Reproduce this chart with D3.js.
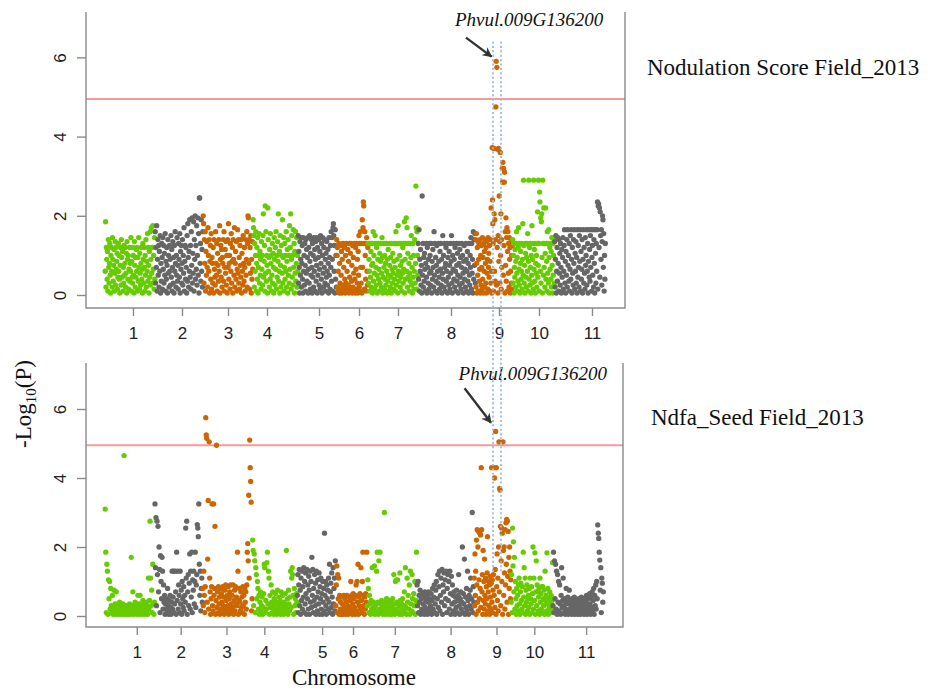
<!DOCTYPE html>
<html>
<head>
<meta charset="utf-8">
<script src="https://cdn.jsdelivr.net/npm/d3@7"></script>
<style>
  body { margin: 0; background: #fff; }
  svg { display: block; }
</style>
</head>
<body>
<svg id="chart" width="934" height="691"></svg>
<script>
// ---- Chromosomes, tick positions (Mb along the concatenated genome) ----
const chromosomes = ["1", "2", "3", "4", "5", "6", "7", "8", "9", "10", "11"];
const chromLengths = [50, 48, 50, 45, 38.5, 31.5, 50, 57.5, 37, 42, 51];
const nodTicks = [28, 77, 123, 162, 214, 254, 293, 346, 394, 434, 487];
const ndfaTicks = [32, 76, 122, 160, 218, 249, 291, 347, 393, 431, 483];
const yTicks = [0, 2, 4, 6];
const threshold = 4.95;             // genome-wide significance, -log10(P)
const candidateRegion = [388, 396]; // Phvul.009G136200 interval (Mb, genome coordinates)
const geneName = "Phvul.009G136200";

// ---- Nodulation Score Field_2013: -log10(P) of SNPs along each chromosome ----
const nodChr1 = [0.6,1.85,0.2,1.2,0.9,0.4,1.1,0.1,1.4,0.7,0.3,0.8,1.3,0.5,0.05,1.0,1.2,0.6,0.2,1.45,0.9,0.35,0.75,1.15,0.1,0.55,1.35,0.25,1.2,0.65,0.85,1.05,0.15,0.45,1.3,0.6,1.0,0.4,0.05,0.75,1.2,0.25,1.4,0.95,0.45,1.1,0.1,0.7,0.3,1.25,0.5,0.8,1.2,0.2,0.55,1.05,0.05,1.35,0.9,0.4,1.0,0.15,0.65,1.2,0.35,0.8,0.6,1.45,0.1,0.85,0.45,0.3,1.2,1.0,0.5,0.05,1.35,0.75,0.2,0.95,0.45,1.15,0.6,1.2,0.1,0.95,0.35,1.45,0.7,0.15,1.05,0.55,0.25,0.8,1.2,0.4,0.65,0.05,1.3,0.9,0.3,1.2,0.7,0.1,1.0,0.5,1.4,0.2,0.85,0.6,1.55,0.35,1.2,0.75,0.05,1.1,0.45,1.6,0.25,0.9,1.7,0.55,1.2,0.3,1.75,0.65,1.0,0.15,1.45,0.4];
const nodChr2 = [1.6,0.3,1.2,0.7,1.75,0.1,0.9,1.4,0.5,1.25,0.2,1.1,0.6,1.5,0.05,0.8,0.35,1.3,0.95,0.15,1.45,0.65,1.25,0.3,1.05,0.5,1.55,0.1,0.85,0.4,1.2,0.75,0.05,1.4,0.55,1.0,0.2,1.25,0.6,0.9,0.25,1.5,0.45,1.15,0.1,0.7,1.35,0.3,0.95,0.05,1.25,0.6,1.6,0.8,0.2,1.0,0.5,1.45,0.35,0.75,0.15,1.3,0.9,0.45,1.55,0.05,1.1,0.65,1.25,0.3,0.8,1.4,0.25,1.0,0.55,1.7,0.1,0.85,1.25,0.4,1.2,0.7,0.05,1.5,0.35,1.8,0.95,0.2,1.1,0.6,1.9,0.45,1.25,0.15,1.6,0.75,1.95,0.3,1.05,0.55,1.85,0.1,1.4,0.9,2.0,0.4,1.25,0.65,1.75,0.25,1.0,1.95,0.5,1.55,0.05,2.45,2.45,0.8,1.3,0.35,1.9,0.6,1.15,0.2,1.6];
const nodChr3 = [2.0,1.8,0.3,1.4,0.8,1.6,0.1,1.1,0.5,1.35,0.7,0.2,1.7,1.0,0.6,1.4,0.05,0.85,1.25,0.4,1.55,0.15,0.95,0.8,0.3,1.2,0.05,1.4,0.65,0.45,0.25,1.6,0.8,0.5,1.3,0.1,1.05,0.75,0.35,1.4,0.6,1.75,0.05,0.9,1.25,0.45,1.15,0.2,0.95,0.8,1.4,0.35,1.6,0.1,0.7,1.15,0.55,1.35,0.25,1.0,0.05,1.4,0.7,1.8,0.4,0.8,1.0,0.15,1.3,0.6,1.55,0.3,0.85,1.2,0.05,1.4,0.9,0.5,1.7,0.2,0.8,1.1,0.4,1.35,0.1,0.65,1.65,0.55,1.4,0.3,0.95,0.15,1.25,0.75,0.45,1.4,0.05,1.05,0.6,0.25,1.5,0.8,0.35,1.2,0.7,0.1,1.4,0.5,0.9,1.6,0.2,1.3,2.0,1.95,0.8,1.4,0.15,1.2,0.55,1.5,0.05,0.9,0.4,1.35,0.65];
const nodChr4 = [1.9,1.7,1.5,0.2,1.3,0.6,1.0,1.6,0.1,0.8,1.2,0.4,1.45,0.05,0.7,1.0,1.55,0.3,1.1,0.5,0.9,0.15,1.35,0.65,1.0,0.25,1.5,2.05,0.45,0.85,1.25,0.1,2.25,0.55,1.6,0.35,1.0,0.75,0.05,2.2,1.4,0.6,0.95,0.2,1.15,0.4,1.55,0.8,1.0,0.1,0.5,1.3,0.3,1.05,0.7,0.05,1.45,0.9,0.25,1.2,0.65,1.6,0.15,1.0,0.45,1.35,0.85,2.05,0.35,0.6,1.1,0.05,1.5,0.75,0.2,1.25,1.0,0.55,1.9,0.3,0.95,1.45,0.1,0.7,1.3,0.4,1.0,0.6,1.6,0.2,0.85,1.15,0.05,1.4,0.5,1.0,0.3,1.75,0.65,1.2,2.05,0.15,0.9,1.5,0.45,1.0,0.25,1.65,0.7,1.3,0.05,1.1,0.55,1.6,0.35,0.8,1.45,0.2,1.0,0.6];
const nodChr5 = [1.5,0.3,1.1,0.7,0.05,1.35,0.5,0.9,1.45,0.2,0.8,1.25,0.4,0.05,1.45,0.6,1.0,0.25,1.3,0.75,0.1,1.4,0.55,1.15,0.35,0.95,1.45,0.05,0.65,1.2,0.3,1.5,0.85,0.15,1.05,0.5,1.4,0.7,0.05,1.3,0.45,1.0,0.2,1.45,0.6,1.15,0.1,0.9,1.35,0.35,0.75,1.45,0.05,1.2,0.5,0.95,1.4,0.25,0.65,1.1,0.15,1.5,0.8,0.4,1.3,0.05,1.0,1.45,0.55,0.2,1.2,0.7,1.4,0.3,0.9,0.1,1.05,0.45,1.35,0.6,0.25,1.15,0.8,0.05,1.45,0.5,0.95,0.15,1.25,0.7,1.6,0.35,1.45,0.9,0.1,1.7,1.8,1.5,0.6,1.25,0.05,1.65,0.4,1.0,0.2];
const nodChr6 = [1.4,1.0,1.2,0.2,0.6,0.1,1.3,0.05,0.8,0.3,1.25,0.15,0.5,1.1,0.05,0.9,0.25,1.3,0.1,0.7,0.2,1.2,0.4,0.05,1.0,0.3,1.3,0.15,0.6,0.1,1.15,0.25,0.85,0.05,1.3,0.45,0.2,1.05,0.1,1.3,0.35,0.75,0.05,1.25,0.2,0.95,0.55,0.1,1.3,0.4,0.05,1.2,0.65,0.15,1.3,0.3,0.9,0.05,1.1,0.5,1.5,0.2,1.3,0.1,1.6,0.7,0.3,1.3,0.05,1.9,0.7,1.7,2.35,2.25,1.3,0.15,1.6,1.0,0.4,1.3,0.1,1.45,0.6,0.25,1.2];
const nodChr7 = [1.3,0.3,0.9,0.6,0.1,1.3,0.45,1.1,0.2,0.75,1.3,0.05,0.8,1.6,0.35,1.0,0.55,0.15,1.5,1.3,0.7,0.25,1.2,0.5,0.05,0.9,1.3,0.4,0.65,0.1,1.05,0.3,0.85,1.3,0.2,0.55,1.45,0.95,0.05,0.45,1.3,0.7,0.15,1.0,0.4,0.8,0.25,1.3,0.6,0.05,0.9,0.35,1.15,0.5,0.1,1.3,0.75,0.2,0.95,0.45,0.05,1.3,0.65,0.3,1.05,0.55,0.15,0.85,1.3,0.4,0.7,0.1,1.6,0.25,1.3,0.9,0.5,0.05,1.75,0.6,0.35,1.3,1.0,0.2,0.75,0.45,1.3,0.1,0.85,0.55,1.2,0.3,0.65,1.3,1.85,0.05,0.9,0.4,1.3,1.95,0.6,1.7,0.2,1.05,0.45,1.3,0.8,0.1,0.55,0.35,1.3,0.95,1.5,0.25,0.7,0.05,1.3,0.45,1.0,0.15,0.6,1.4,0.3,0.8,2.75,1.7,0.15,1.6,1.0,0.5];
const nodChr8 = [1.3,0.4,1.65,0.1,0.9,0.6,1.15,0.25,0.75,0.05,2.5,0.5,1.3,0.2,0.95,0.35,1.05,0.65,0.1,0.8,1.3,0.45,0.05,1.2,0.7,0.3,0.9,0.15,1.3,0.55,1.0,0.25,0.6,1.3,0.05,0.85,0.4,1.15,0.7,0.2,1.6,0.5,1.3,0.1,0.95,0.35,0.75,1.25,0.05,0.6,0.3,1.3,0.85,0.45,0.15,1.1,0.65,1.3,0.25,0.9,0.05,0.55,1.5,0.4,1.0,0.2,1.3,0.7,0.1,0.8,1.2,0.35,0.6,1.3,0.05,0.95,0.45,0.25,1.1,0.75,0.15,1.3,0.55,0.85,1.5,0.3,0.05,1.0,0.65,1.3,0.4,0.9,0.2,1.2,0.6,0.1,1.3,0.75,0.35,1.05,0.5,0.05,1.3,0.8,0.25,1.15,0.45,0.95,0.15,0.7,1.3,0.3,1.0,0.55,0.05,0.85,1.25,0.4,0.65,0.2,1.3,0.9,0.1,0.6,1.1,0.35,0.8,0.05,1.3,0.5,0.25,1.0,0.7,1.45,0.15,1.3,0.55,0.9,0.05,1.6,0.4,1.4,0.75,1.55,0.3];
const nodChr9 = [1.4,0.2,1.55,0.8,0.05,1.2,0.5,1.35,0.1,0.9,1.3,0.35,0.65,1.4,0.05,1.0,0.25,1.25,0.7,0.15,1.45,0.4,0.95,0.05,1.3,0.6,1.1,0.2,1.4,0.8,0.3,1.2,0.05,1.35,0.55,0.9,0.15,1.45,0.7,1.05,0.45,1.25,0.1,0.85,1.4,0.3,2.2,0.6,0.05,3.72,2.4,1.8,1.3,0.1,3.7,2.05,0.6,1.9,0.35,1.4,4.75,5.9,0.25,5.75,1.2,3.68,0.05,1.5,3.7,0.85,2.5,1.35,0.3,3.6,1.0,2.05,0.15,1.4,0.7,3.2,2.85,3.35,0.5,3.2,1.25,2.85,3.1,0.05,1.6,0.75,1.95,0.35,1.45,1.7,0.1,1.1,1.6,0.55,1.3,0.2,1.45,0.9,1.2,0.05,0.6,1.35,0.3,1.0,0.15,1.25];
const nodChr10 = [1.4,0.3,1.0,1.3,0.05,0.7,0.45,1.15,0.2,0.85,1.3,1.6,0.55,0.95,0.1,0.35,1.2,1.7,0.65,0.25,1.3,0.05,0.8,1.1,0.4,0.6,1.3,0.15,0.9,1.8,0.5,2.9,1.25,0.3,0.75,0.05,1.3,1.05,0.45,0.2,0.95,1.3,0.6,1.55,0.1,0.85,2.9,0.4,1.2,0.25,1.3,0.7,0.05,1.0,0.5,1.75,0.3,0.9,1.3,0.15,2.9,0.65,1.15,0.35,1.3,0.05,0.8,0.55,1.0,0.2,1.3,2.1,0.45,0.75,2.9,1.3,0.1,2.6,2.35,0.6,1.95,0.3,1.85,2.05,0.95,0.05,2.9,1.3,0.5,2.2,0.7,1.3,0.2,1.05,2.2,0.4,1.3,0.85,0.1,1.6,0.55,1.3,0.3,1.65,0.95,0.05,1.2,0.65,1.3,0.4,1.1,0.2,1.45,0.75,0.05,1.3,0.5,1.0,1.4,0.3];
const nodChr11 = [1.35,0.2,0.9,1.5,0.05,0.6,1.2,0.35,1.45,0.8,0.1,1.4,0.55,1.05,0.25,1.3,0.7,0.05,1.15,0.45,0.95,1.45,0.15,0.6,1.25,1.65,0.3,0.85,0.05,1.1,0.5,1.4,0.2,1.65,0.75,1.0,0.35,1.3,0.1,0.65,1.5,0.4,1.65,0.9,0.05,1.2,0.55,0.25,1.4,0.8,1.65,0.15,1.05,0.6,1.35,0.3,0.95,0.05,1.65,0.45,1.25,0.7,0.2,1.5,0.85,1.65,0.1,1.1,0.4,0.65,1.4,0.05,0.9,1.65,0.3,1.2,0.55,0.15,1.45,0.75,1.0,1.65,0.25,0.6,1.3,0.05,0.85,1.65,0.45,1.15,0.35,1.5,0.7,1.65,0.1,0.95,1.25,0.5,1.65,0.2,1.4,0.8,0.05,1.65,1.05,0.3,1.3,0.6,1.65,2.35,0.15,2.25,2.3,1.2,2.2,0.45,2.1,1.5,0.9,1.65,0.25,1.35,2.0,1.9,0.7,1.55,0.1,1.0,0.4,1.3];

// ---- Ndfa_Seed Field_2013 ----
const ndfaChr1 = [3.1,1.85,0.1,1.5,1.3,0.05,1.05,0.5,1.0,0.2,0.8,0.3,0.1,0.6,0.05,0.25,0.75,0.15,0.35,0.05,0.7,0.2,0.1,0.3,0.05,0.15,0.4,0.25,0.05,0.3,0.1,0.2,0.35,0.05,4.65,0.15,0.3,0.05,0.2,0.1,0.3,0.05,0.25,0.15,0.35,0.05,0.2,1.7,0.1,0.3,0.7,0.05,0.2,0.15,0.4,0.1,0.3,0.05,0.25,0.6,0.15,0.35,0.05,0.6,0.2,0.1,0.3,0.05,0.45,0.2,0.1,0.35,0.05,0.25,0.4,0.15,0.3,0.05,1.1,0.2,0.45,2.75,1.1,0.3,0.75,0.1,1.5,0.35,0.05,0.4];
const ndfaChr2 = [3.25,1.4,2.85,0.3,2.75,1.2,2.6,0.7,2.0,1.35,0.1,1.75,1.0,0.5,1.7,1.3,0.2,0.9,0.4,0.6,0.05,0.35,0.2,0.5,0.1,0.8,0.3,0.05,0.45,0.15,0.6,0.25,0.05,0.4,1.3,0.2,0.55,1.3,0.1,0.35,1.3,0.7,0.05,1.85,0.45,1.3,0.2,0.9,0.6,0.1,1.3,0.35,0.75,0.05,1.0,0.5,0.25,0.85,0.15,0.6,0.4,2.55,1.1,2.75,0.05,0.7,1.2,0.3,0.95,1.8,0.2,1.3,0.55,1.85,0.1,1.05,0.75,1.3,0.35,1.0,1.85,0.25,0.9,1.2,2.65,2.55,2.3,3.25,1.5,0.6,1.3,0.15,0.8,1.1,0.4];
const ndfaChr3 = [0.8,0.3,1.3,0.6,0.1,0.85,5.75,5.25,5.15,0.4,1.65,3.35,0.2,5.05,1.1,0.7,0.05,0.5,0.85,3.25,0.3,0.15,3.25,0.6,0.8,2.6,0.05,0.45,4.95,0.25,0.7,0.1,0.85,0.35,0.55,0.05,0.8,0.2,0.65,0.4,0.1,0.85,0.3,0.55,0.05,0.75,0.2,0.9,0.45,0.15,0.6,0.3,0.85,0.05,0.5,0.7,0.2,0.9,0.35,0.1,0.6,0.25,0.9,0.05,0.45,0.75,0.15,0.85,0.35,0.55,0.3,1.85,1.3,0.05,0.45,0.8,0.4,0.15,0.7,0.25,0.55,0.1,0.85,0.3,0.6,0.05,0.8,0.4,0.7,0.2,0.9,1.85,2.1,1.6,3.5,1.1,5.1,4.3,3.9,3.3,0.15,0.5];
const ndfaChr4 = [2.2,1.9,0.3,1.8,1.6,0.1,1.4,1.2,0.5,1.0,0.8,0.2,0.6,0.05,0.4,0.7,0.15,0.3,0.55,0.05,0.25,0.65,1.5,1.4,0.1,0.45,0.2,1.55,1.85,0.35,1.3,1.1,0.05,0.6,0.25,0.9,0.4,0.1,0.7,0.3,0.05,0.5,0.2,0.65,0.15,0.4,0.05,0.75,0.3,0.1,0.55,0.2,0.45,0.05,0.7,0.35,0.15,0.6,0.25,0.05,0.4,0.1,0.65,0.3,1.9,0.2,0.5,0.05,0.75,0.35,0.15,0.55,1.3,0.25,1.1,1.4,1.2,0.6,0.05,0.8,0.3,0.5,0.1,0.65,0.4];
const ndfaChr5 = [0.6,1.2,0.1,0.9,1.35,0.3,0.75,0.05,1.1,0.45,1.3,0.2,0.85,0.55,1.4,0.1,1.0,0.35,1.25,0.65,0.05,1.35,0.5,0.9,0.2,1.15,0.75,0.05,1.3,0.4,1.0,0.25,1.7,0.6,1.35,0.1,0.8,0.45,1.2,0.3,0.95,0.05,1.3,0.55,0.15,1.05,0.7,0.35,1.25,0.05,0.85,0.5,1.1,0.2,0.65,0.05,1.0,0.4,0.8,0.15,2.4,0.6,1.0,0.3,0.05,0.9,0.5,0.75,0.2,1.1,0.4,1.5,0.1,0.7,0.95,0.25,1.25,0.55,0.05,1.4,0.35,0.8,1.1,0.15,1.6];
const ndfaChr6 = [0.3,0.9,1.45,0.1,1.2,0.5,1.1,0.05,0.6,0.2,0.4,0.05,0.55,0.15,0.35,0.05,0.6,0.25,0.1,0.5,0.2,0.05,0.4,0.6,0.15,0.3,0.05,0.55,0.25,0.1,0.45,1.0,0.2,0.6,0.05,0.35,0.65,0.1,0.5,0.25,0.05,0.6,0.9,0.15,1.0,0.4,1.5,0.05,0.55,0.3,0.65,0.2,1.4,0.45,0.1,1.0,1.85,0.6,0.3,0.05,0.55,0.2,0.65,0.4,1.85];
const ndfaChr7 = [0.3,1.05,0.8,0.1,0.6,0.35,0.05,0.45,0.2,1.4,0.1,0.4,0.25,1.45,0.05,0.3,0.15,1.3,1.85,0.4,0.05,1.6,0.2,1.85,0.35,0.1,0.45,0.25,0.05,0.3,0.15,3.0,0.4,0.05,0.25,0.5,0.1,0.35,0.2,0.05,0.45,0.3,0.1,0.4,0.05,0.25,0.5,0.15,1.2,0.35,0.05,1.0,0.2,1.05,0.4,1.05,0.1,0.3,0.05,1.25,0.45,0.2,0.35,0.05,0.5,0.15,0.3,0.7,0.1,1.4,0.25,0.05,1.1,0.4,0.6,0.2,0.9,0.05,1.3,0.35,0.15,1.2,0.5,0.1,0.65,0.3,1.0,0.05,0.45,1.85];
const ndfaChr8 = [0.9,0.3,1.0,0.1,0.6,0.4,0.75,0.05,0.5,0.2,0.65,0.1,0.35,0.55,0.05,0.7,0.25,0.45,0.15,0.6,0.05,0.4,0.7,0.2,0.5,0.1,0.3,0.65,0.05,0.45,0.8,0.2,0.55,0.9,0.1,0.35,0.75,1.0,0.05,0.5,1.2,0.25,0.85,1.3,0.15,0.6,1.1,0.4,1.35,0.05,0.9,0.7,1.25,0.3,1.05,0.5,1.3,0.1,0.8,1.2,0.45,1.0,0.2,1.3,0.65,0.05,1.15,0.35,0.9,0.6,0.15,0.7,0.4,0.05,0.55,0.25,0.75,0.1,0.45,0.6,1.2,0.3,0.05,0.5,0.7,0.2,0.4,2.0,0.1,0.65,0.35,1.65,0.05,0.55,0.25,0.8,0.15,1.3,0.45,0.05,0.6,0.3,0.75,1.1,0.2,0.5,3.0,0.1,0.85,0.4];
const ndfaChr9 = [1.1,0.3,1.8,0.6,1.3,0.05,2.2,0.9,2.5,0.4,2.0,0.15,2.45,1.05,0.5,2.4,0.8,2.35,0.25,4.3,2.5,0.7,1.2,0.05,1.9,0.45,1.0,0.2,1.65,0.6,0.35,1.1,0.05,0.85,0.5,1.25,2.3,0.15,0.7,1.0,0.3,0.9,0.05,1.15,0.55,0.2,0.95,4.3,0.4,1.05,0.1,0.75,1.2,4.3,0.6,4.0,0.25,1.35,5.35,0.05,4.3,0.85,1.8,0.45,1.1,0.15,2.0,5.05,0.7,3.7,3.65,2.6,0.3,1.6,2.55,1.0,2.4,0.05,5.05,1.9,0.6,2.0,1.25,0.2,2.5,0.9,2.7,1.5,2.8,0.4,2.75,1.15,2.45,0.05,1.7,0.8,2.0,1.3,0.5,1.05];
const ndfaChr10 = [0.4,1.2,0.1,2.55,1.45,2.15,0.7,1.7,0.2,1.0,0.5,0.05,0.8,0.3,0.6,0.15,0.9,1.1,0.35,0.05,0.7,0.95,0.45,0.2,0.85,0.1,1.85,0.55,1.4,0.3,1.1,0.05,0.75,0.4,0.9,0.15,0.5,0.6,0.25,0.8,0.05,1.1,0.5,0.35,0.85,0.1,0.65,2.0,0.2,1.1,0.45,1.83,0.05,0.7,1.6,0.3,0.9,0.7,0.15,0.55,0.8,0.05,1.1,0.4,0.65,0.2,0.85,0.1,0.85,0.5,0.3,0.75,0.05,1.3,0.45,0.6,0.15,1.83,0.35,0.8,0.05,0.5,0.25,0.7,0.1,0.4,0.6,0.2,0.45,1.55];
const ndfaChr11 = [0.3,1.85,0.1,1.6,0.5,1.5,0.2,1.3,0.05,1.2,0.4,1.0,0.15,0.9,0.35,0.05,0.6,1.4,0.25,0.45,1.1,0.1,0.3,0.5,0.05,0.2,0.8,0.4,0.15,0.55,0.05,0.35,0.75,0.2,0.45,0.1,0.3,0.05,0.5,0.25,0.4,0.15,0.55,0.05,0.3,0.2,0.45,0.1,0.35,0.05,0.25,0.5,0.15,0.4,0.05,0.3,0.55,0.2,0.1,0.45,0.35,0.05,0.25,0.5,0.15,0.4,0.6,0.05,0.3,0.2,0.5,0.1,0.65,0.35,0.05,0.55,0.25,0.7,0.15,0.45,0.8,0.05,0.6,0.3,0.9,0.2,1.0,0.5,2.64,2.4,2.25,1.85,1.62,0.75,1.4,0.1,1.1,0.95,0.4,0.7];

// ---- Drawing ----
const svg = d3.select("#chart");
const chromColors = ["#66cc00", "#666666", "#cc6600"];
const axisColor = "#8a8a8a";
const sansFont = "'Liberation Sans', Arial, Helvetica, sans-serif";
const serifFont = "'Liberation Serif', 'Times New Roman', Times, serif";

// chromosome start offsets on the concatenated genome axis
const chromStarts = chromLengths.reduce((acc, len, i) => {
  acc.push(i === 0 ? 0 : acc[i - 1] + chromLengths[i - 1]);
  return acc;
}, []);

const panels = [
  {
    title: "Nodulation Score Field_2013",
    chroms: [nodChr1, nodChr2, nodChr3, nodChr4, nodChr5, nodChr6, nodChr7, nodChr8, nodChr9, nodChr10, nodChr11],
    ticks: nodTicks,
    frame: { left: 86, right: 625, top: 12, bottom: 308 },
    yRange: [295, 57.4],
    titleAt: [647, 75],
    label: { x: 350, y: 6.8 },
    arrow: { from: [361, 6.5], to: [386.5, 6.02] }
  },
  {
    title: "Ndfa_Seed Field_2013",
    chroms: [ndfaChr1, ndfaChr2, ndfaChr3, ndfaChr4, ndfaChr5, ndfaChr6, ndfaChr7, ndfaChr8, ndfaChr9, ndfaChr10, ndfaChr11],
    ticks: ndfaTicks,
    frame: { left: 86, right: 623, top: 363, bottom: 627 },
    yRange: [616, 409],
    titleAt: [651, 425],
    label: { x: 355, y: 6.85 },
    arrow: { from: [361, 6.6], to: [387.5, 5.6] }
  }
];

// arrow head
svg.append("defs").append("marker")
  .attr("id", "head")
  .attr("viewBox", "0 0 10 10")
  .attr("refX", 9).attr("refY", 5)
  .attr("markerWidth", 4.2).attr("markerHeight", 4.2)
  .attr("markerUnits", "strokeWidth")
  .attr("orient", "auto")
  .append("path")
  .attr("d", "M0,0 L10,5 L0,10 L3,5 Z")
  .attr("fill", "#333");

const scales = [];

panels.forEach(p => {
  const f = p.frame;
  const x = d3.scaleLinear().domain([-19, 520]).range([f.left, f.right]);
  const y = d3.scaleLinear().domain([0, 6]).range(p.yRange);
  scales.push({ x, y });
  const g = svg.append("g");

  // significance threshold
  g.append("line")
    .attr("x1", f.left).attr("x2", f.right)
    .attr("y1", y(threshold)).attr("y2", y(threshold))
    .attr("stroke", "#f59a9a").attr("stroke-width", 2);

  // SNP points
  const pts = [];
  p.chroms.forEach((vals, c) => {
    const n = vals.length;
    vals.forEach((v, i) => {
      pts.push({ pos: chromStarts[c] + (i + 0.5) / n * chromLengths[c], v, c });
    });
  });
  g.append("g").selectAll("circle").data(pts).join("circle")
    .attr("cx", d => x(d.pos))
    .attr("cy", d => y(d.v))
    .attr("r", 2.65)
    .attr("fill", d => chromColors[d.c % 3]);

  // frame lines (left, bottom, right)
  g.append("path")
    .attr("d", `M${f.left},${f.top}V${f.bottom}H${f.right}V${f.top}`)
    .attr("stroke", axisColor).attr("stroke-width", 1.4).attr("fill", "none");

  // y axis
  const yAxis = g.append("g")
    .attr("transform", `translate(${f.left},0)`)
    .call(d3.axisLeft(y).tickValues(yTicks).tickSize(9).tickFormat(d3.format("d")));
  yAxis.select(".domain").remove();
  yAxis.selectAll(".tick line").attr("stroke", axisColor).attr("stroke-width", 1.4);
  yAxis.selectAll(".tick text")
    .attr("x", null).attr("dy", null)
    .attr("transform", "translate(-20,0) rotate(-90)")
    .attr("text-anchor", "middle")
    .attr("font-family", sansFont).attr("font-size", 17).attr("fill", "#222");

  // x axis
  const xAxis = g.append("g")
    .attr("transform", `translate(0,${f.bottom})`)
    .call(d3.axisBottom(x).tickValues(p.ticks).tickSize(8).tickPadding(11)
      .tickFormat((d, i) => chromosomes[i]));
  xAxis.select(".domain").remove();
  xAxis.selectAll(".tick line").attr("stroke", axisColor).attr("stroke-width", 1.4);
  xAxis.selectAll(".tick text")
    .attr("font-family", sansFont).attr("font-size", 17).attr("fill", "#222");

  // trait title
  svg.append("text")
    .attr("x", p.titleAt[0]).attr("y", p.titleAt[1])
    .attr("font-family", serifFont).attr("font-size", 23).attr("fill", "#111")
    .text(p.title);

  // candidate gene label and arrow
  g.append("text")
    .attr("x", x(p.label.x)).attr("y", y(p.label.y))
    .attr("font-family", serifFont).attr("font-style", "italic")
    .attr("font-size", 19).attr("fill", "#111")
    .text(geneName);
  g.append("line")
    .attr("x1", x(p.arrow.from[0])).attr("y1", y(p.arrow.from[1]))
    .attr("x2", x(p.arrow.to[0])).attr("y2", y(p.arrow.to[1]))
    .attr("stroke", "#333").attr("stroke-width", 2.4)
    .attr("marker-end", "url(#head)");
});

// candidate interval, dotted lines spanning both panels
const xs = scales[0].x;
candidateRegion.forEach(pos => {
  svg.append("line")
    .attr("x1", xs(pos)).attr("x2", xs(pos))
    .attr("y1", scales[0].y(6.4)).attr("y2", scales[1].y(1.25))
    .attr("stroke", "#9bbbe3").attr("stroke-width", 2)
    .attr("stroke-dasharray", "2,2.4").attr("opacity", 0.9);
});

// shared axis titles
const yTitle = svg.append("text")
  .attr("transform", "translate(31,404) rotate(-90)")
  .attr("text-anchor", "middle")
  .attr("font-family", serifFont).attr("font-size", 23).attr("fill", "#111");
yTitle.append("tspan").text("-Log");
yTitle.append("tspan").attr("font-size", 15).attr("dy", 5).text("10");
yTitle.append("tspan").attr("dy", -5).text("(P)");

svg.append("text")
  .attr("x", 354).attr("y", 685)
  .attr("text-anchor", "middle")
  .attr("font-family", serifFont).attr("font-size", 23).attr("fill", "#111")
  .text("Chromosome");
</script>
</body>
</html>
